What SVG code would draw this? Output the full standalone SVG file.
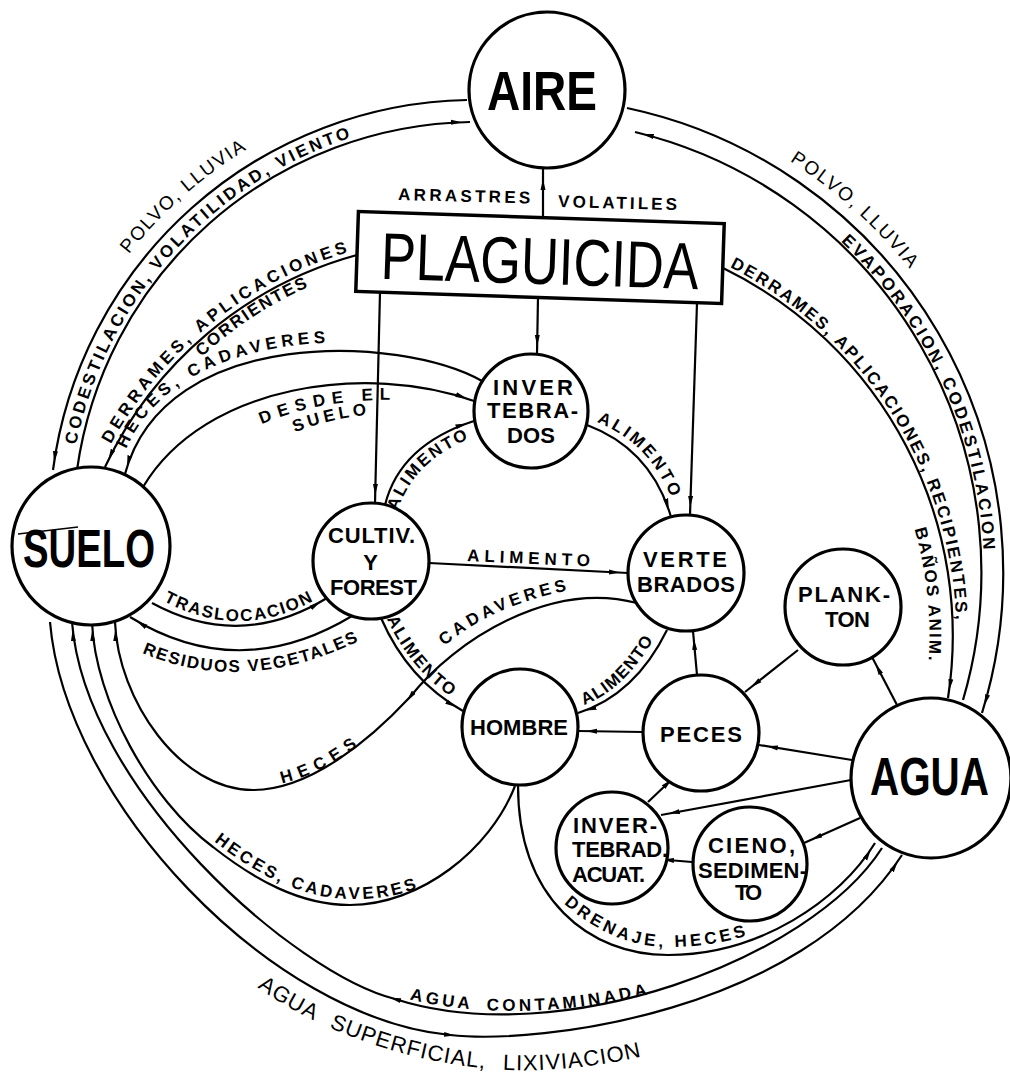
<svg xmlns="http://www.w3.org/2000/svg" width="1010" height="1073" viewBox="0 0 1010 1073">
<style>
.nd{fill:#fff;stroke:#000;stroke-width:3.2}
.c{fill:none;stroke:#000;stroke-width:2.2}
.big{font-family:"Liberation Sans",Arial,sans-serif;font-weight:bold;text-anchor:middle}
.n{font-family:"Liberation Sans",Arial,sans-serif;font-weight:bold;font-size:22px;text-anchor:middle}
.s{font-family:"Liberation Sans",Arial,sans-serif;font-weight:bold;font-size:17px}
.t{font-family:"Liberation Sans",Arial,sans-serif;font-size:19px}
</style>
<defs>
<marker id="a" viewBox="0 0 11 6" refX="19" refY="3" markerWidth="11" markerHeight="6" markerUnits="userSpaceOnUse" orient="auto"><path d="M0,0.5 L11,3 L0,5.5 z"/></marker>
<marker id="m" viewBox="0 0 11 6" refX="6" refY="3" markerWidth="11" markerHeight="6" markerUnits="userSpaceOnUse" orient="auto"><path d="M0,0.5 L11,3 L0,5.5 z"/></marker>
<path id="p_polvoL" d="M94.1,305.5 A441,441 0 0 1 325.2,111.6"/>
<path id="p_codest" d="M69.6,490.4 A408,408 0 0 1 405.2,124.2"/>
<path id="p_derrL" d="M86.7,497.9 A398,398 0 0 1 391.6,242"/>
<path id="p_corr" d="M150.2,416.6 A379,379 0 0 1 362.6,267.9"/>
<path id="p_hecesT" d="M119,470 C159,318 400,327 482,369"/>
<path id="p_desde" d="M258,426 Q320,398 398,400"/>
<path id="p_suelo" d="M293,433 Q330,418 375,414"/>
<path id="p_trasl" d="M158,598 Q240,645 322,596"/>
<path id="p_resid" d="M140,652 Q245,698 365,638"/>
<path id="p_al1" d="M396,517 Q411,457 485,433"/>
<path id="p_al2" d="M592,420 Q656,444 676,512"/>
<path id="p_al4" d="M385,615 Q412,676 466,706"/>
<path id="p_al5" d="M581,706 Q628,690 661,626"/>
<path id="p_cad" d="M430,660 Q480,606 580,588"/>
<path id="p_hec" d="M270,785 C300,782 335,765 365,740"/>
<path id="p_hc" d="M210,838 C255,874 300,898 350,899 C390,900 420,890 445,875"/>
<path id="p_dren" d="M555,895 C590,930 630,947 668,947 C720,947 760,935 800,912"/>
<path id="p_cont" d="M400,997 C470,1016 560,1016 650,994"/>
<path id="p_sup" d="M250,982 C330,1042 450,1074 540,1070 C590,1068 630,1060 660,1052"/>
<path id="p_polvoR" d="M694.9,114.4 A488,488 0 0 1 986.6,406.1"/>
<path id="p_evap" d="M756,178.1 A456,456 0 0 1 977.1,652.2"/>
<path id="p_derrR" d="M650.4,236.8 A413,413 0 0 1 954.9,671.7"/>
<path id="p_banos" d="M877.8,442.7 A386,386 0 0 1 916.3,735.6"/>
</defs>
<rect width="1010" height="1073" fill="#fff"/>
<g id="connectors">
<path class="c" d="M467,100 A426,426 0 0 0 53,470" marker-end="url(#a)"/>
<path class="c" d="M77,470 A404,404 0 0 1 470,122" marker-end="url(#a)"/>
<path class="c" d="M627,108 A475,475 0 0 1 982,713" marker-end="url(#a)"/>
<path class="c" d="M963,700 A453,453 0 0 0 635,132" marker-end="url(#a)"/>
<path class="c" d="M723,268 A409,409 0 0 1 948,698" marker-end="url(#a)"/>
<path class="c" d="M357,255 A393,393 0 0 0 105,467" marker-end="url(#a)"/>
<path class="c" d="M482,381 C400,335 165,325 125,474" marker-end="url(#a)"/>
<path class="c" d="M143,487 C205,383 369,363 474,401" marker-end="url(#a)"/>
<path class="c" d="M152,603 Q240,651 327,598" marker-end="url(#a)"/>
<path class="c" d="M352,616 Q239,684 130,617" marker-end="url(#a)"/>
<path class="c" d="M543,217 L543,184 L543,168" marker-mid="url(#m)"/>
<path class="c" d="M380,292 L375,503" marker-end="url(#a)"/>
<path class="c" d="M538,297 L537,354" marker-end="url(#a)"/>
<path class="c" d="M697,303 L690,515" marker-end="url(#a)"/>
<path class="c" d="M385,505 Q400,445 474,421" marker-end="url(#a)"/>
<path class="c" d="M587,425 Q651,449 671,517" marker-end="url(#a)"/>
<path class="c" d="M429,563 L628,573" marker-end="url(#a)"/>
<path class="c" d="M381,618 Q408,680 463,711" marker-end="url(#a)"/>
<path class="c" d="M667,630 Q635,695 578,713" marker-end="url(#a)"/>
<path class="c" d="M50,622 C65,800 270,1018 450,1035 C540,1045 800,1012 902,855" marker-mid="url(#m)" marker-end="url(#a)"/>
<path class="c" d="M882,848 C810,960 560,1052 395,999 C295,974 85,790 72,622" marker-mid="url(#m)" marker-end="url(#a)"/>
<path class="c" d="M515,786 C490,850 420,905 350,905 C300,905 255,880 213,847 C150,800 95,700 92,622" marker-end="url(#a)"/>
<path class="c" d="M637,603 C550,580 455,640 410,697" marker-end="url(#m)"/>
<path class="c" d="M410,697 C370,740 310,790 253,790 C180,790 118,700 115,622" marker-end="url(#a)"/>
<path class="c" d="M518,785 C518,900 590,955 668,955 C760,955 840,900 875,843" marker-end="url(#a)"/>
<path class="c" d="M798,650 L745,692" marker-end="url(#a)"/>
<path class="c" d="M897,705 L872,657" marker-end="url(#a)"/>
<path class="c" d="M697,675 L693,631" marker-end="url(#a)"/>
<path class="c" d="M643,732 L578,731" marker-end="url(#a)"/>
<path class="c" d="M852,760 L759,745" marker-end="url(#a)"/>
<path class="c" d="M851,780 L661,815" marker-end="url(#a)"/>
<path class="c" d="M648,802 L668,783" marker-end="url(#m)"/>
<path class="c" d="M860,818 L804,843" marker-end="url(#a)"/>
<path class="c" d="M692,862 L668,860" marker-end="url(#m)"/>
</g>
<g id="connector-labels">
<text class="t" letter-spacing="1.5"><textPath href="#p_polvoL" startOffset="62">POLVO, LLUVIA</textPath></text>
<text class="s" letter-spacing="2.9"><textPath href="#p_codest" startOffset="46">CODESTILACION, VOLATILIDAD, VIENTO</textPath></text>
<text class="s" letter-spacing="3.7"><textPath href="#p_derrL" startOffset="59">DERRAMES, APLICACIONES</textPath></text>
<text class="s" letter-spacing="1.8"><textPath href="#p_corr" startOffset="79">CORRIENTES</textPath></text>
<text class="s" letter-spacing="4.3"><textPath href="#p_hecesT" startOffset="22">HECES, CADAVERES</textPath></text>
<text class="s" letter-spacing="6.7"><textPath href="#p_desde" startOffset="4">DESDE EL</textPath></text>
<text class="s" letter-spacing="3.9"><textPath href="#p_suelo" startOffset="2">SUELO</textPath></text>
<text class="s" letter-spacing="1.8"><textPath href="#p_trasl" startOffset="6">TRASLOCACION</textPath></text>
<text class="s" letter-spacing="1.7"><textPath href="#p_resid" startOffset="2">RESIDUOS VEGETALES</textPath></text>
<text class="s" letter-spacing="2.3"><textPath href="#p_al1" startOffset="6">ALIMENTO</textPath></text>
<text class="s" letter-spacing="2.9"><textPath href="#p_al2" startOffset="5">ALIMENTO</textPath></text>
<text class="s" letter-spacing="4.9" x="467" y="561" transform="rotate(2.5 467 561)">ALIMENTO</text>
<text class="s" letter-spacing="1.9"><textPath href="#p_al4" startOffset="4">ALIMENTO</textPath></text>
<text class="s" letter-spacing="1.2"><textPath href="#p_al5" startOffset="3">ALIMENTO</textPath></text>
<text class="s" letter-spacing="3.8"><textPath href="#p_cad" startOffset="20">CADAVERES</textPath></text>
<text class="s" letter-spacing="6.6"><textPath href="#p_hec" startOffset="12">HECES</textPath></text>
<text class="s" letter-spacing="3"><textPath href="#p_hc" startOffset="5">HECES, CADAVERES</textPath></text>
<text class="s" letter-spacing="3.5"><textPath href="#p_dren" startOffset="12">DRENAJE, HECES</textPath></text>
<text class="s" letter-spacing="3.5" word-spacing="6"><textPath href="#p_cont" startOffset="10">AGUA CONTAMINADA</textPath></text>
<text class="t" style="font-size:22px" letter-spacing="1" word-spacing="10"><textPath href="#p_sup" startOffset="9">AGUA SUPERFICIAL, LIXIVIACION</textPath></text>
<text class="t" letter-spacing="1.8"><textPath href="#p_polvoR" startOffset="106">POLVO, LLUVIA</textPath></text>
<text class="s" letter-spacing="2.9"><textPath href="#p_evap" startOffset="106">EVAPORACION, CODESTILACION</textPath></text>
<text class="s" letter-spacing="2.2"><textPath href="#p_derrR" startOffset="85">DERRAMES, APLICACIONES, RECIPIENTES,</textPath></text>
<text class="s" letter-spacing="1.9"><textPath href="#p_banos" startOffset="94">BAÑOS ANIM.</textPath></text>
<text class="s" letter-spacing="3.3" x="398" y="200" transform="rotate(1.5 398 200)">ARRASTRES</text>
<text class="s" letter-spacing="3.1" x="558" y="207" transform="rotate(1.5 558 207)">VOLATILES</text>
</g>
<g id="aire"><circle class="nd" cx="547" cy="90" r="78"/><text class="big" x="542" y="110" font-size="55" textLength="110" lengthAdjust="spacingAndGlyphs">AIRE</text></g>
<g id="plaguicida" transform="rotate(1.9 540 257.5)"><rect x="357" y="217.5" width="366" height="80" fill="#fff" stroke="#000" stroke-width="3.5"/><text x="540" y="284" font-family="Liberation Sans, Arial, sans-serif" font-size="66" text-anchor="middle" textLength="318" lengthAdjust="spacingAndGlyphs">PLAGUICIDA</text></g>
<g id="suelo"><circle class="nd" cx="91" cy="546" r="79"/><text class="big" x="89" y="567" font-size="54" textLength="132" lengthAdjust="spacingAndGlyphs">SUELO</text><path d="M18,534 L78,527" stroke="#000" stroke-width="1.3"/></g>
<g id="agua"><circle class="nd" cx="931" cy="778" r="80"/><text class="big" x="929.5" y="795" font-size="53" textLength="119" lengthAdjust="spacingAndGlyphs">AGUA</text></g>
<g id="cultiv"><circle class="nd" cx="371" cy="561" r="58"/><text class="n" x="371.5" y="543" textLength="87">CULTIV.</text><text class="n" x="370.5" y="570">Y</text><text class="n" x="373.5" y="595" textLength="87">FOREST</text></g>
<g id="invertebrados"><circle class="nd" cx="531" cy="411" r="57"/><text class="n" x="533" y="395" textLength="80">INVER</text><text class="n" x="532.5" y="418" textLength="91">TEBRA-</text><text class="n" x="531" y="443" textLength="48">DOS</text></g>
<g id="vertebrados"><circle class="nd" cx="686" cy="573" r="58"/><text class="n" x="685" y="567" textLength="84">VERTE</text><text class="n" x="686" y="592" textLength="98">BRADOS</text></g>
<g id="plankton"><circle class="nd" cx="843" cy="607" r="58"/><text class="n" x="844" y="602" textLength="92">PLANK-</text><text class="n" x="847.5" y="627" textLength="45">TON</text></g>
<g id="hombre"><circle class="nd" cx="520" cy="727" r="58"/><text class="n" x="519" y="735" textLength="98">HOMBRE</text></g>
<g id="peces"><circle class="nd" cx="701" cy="733" r="58"/><text class="n" x="701" y="742" textLength="82">PECES</text></g>
<g id="invert-acuat"><circle class="nd" cx="612" cy="848" r="56"/><text class="n" x="615" y="833" textLength="84">INVER-</text><text class="n" x="620" y="857" textLength="96">TEBRAD.</text><text class="n" x="608.5" y="882" textLength="73">ACUAT.</text></g>
<g id="cieno"><circle class="nd" cx="750" cy="864" r="57"/><text class="n" x="751.5" y="853" textLength="87">CIENO,</text><text class="n" x="752.5" y="878" textLength="109">SEDIMEN-</text><text class="n" x="748.5" y="900" textLength="27">TO</text></g>
</svg>
